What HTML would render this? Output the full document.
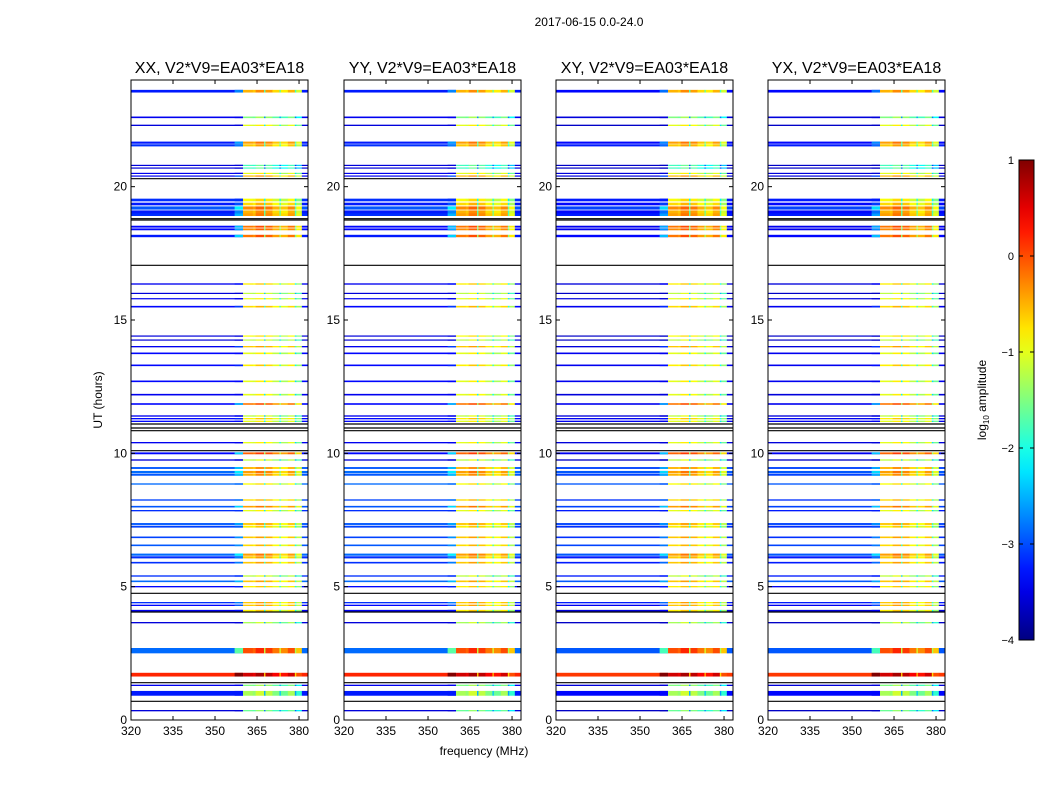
<!DOCTYPE html>
<html><head><meta charset="utf-8"><style>
body{margin:0;background:#fff;}
svg text{font-family:"Liberation Sans","DejaVu Sans",sans-serif;}
</style></head><body>
<svg id="fig" width="1050" height="800" xmlns="http://www.w3.org/2000/svg">
<rect width="1050" height="800" fill="#fff"/>
<text x="589" y="26" font-size="12" text-anchor="middle">2017-06-15 0.0-24.0</text>
<text x="484" y="755" font-size="12" text-anchor="middle">frequency (MHz)</text>
<text transform="translate(102,400) rotate(-90)" font-size="12" text-anchor="middle">UT (hours)</text>
<text transform="translate(986,400) rotate(-90)" font-size="12" text-anchor="middle">log<tspan font-size="8" dy="3">10</tspan><tspan dy="-3"> amplitude</tspan></text>
</svg>
<script>
// ---- data ----
const panelTitles = ["XX, V2*V9=EA03*EA18","YY, V2*V9=EA03*EA18","XY, V2*V9=EA03*EA18","YX, V2*V9=EA03*EA18"];
const xTicks = [320,335,350,365,380];
const yTicks = [0,5,10,15,20];
const cbTicks = [1,0,-1,-2,-3,-4];
// rows: UT hour (center), thickness (hours), low-band log10 amp, high-band log10 amp
const rowHours = [23.58,22.6,22.3,21.65,21.55,20.8,20.7,20.5,20.4,19.5,19.35,19.2,19.05,18.95,18.5,18.4,18.15,16.35,16.0,15.8,15.5,14.4,14.25,14.0,13.75,13.3,12.7,12.2,11.85,11.4,11.3,11.2,10.4,10.0,9.75,9.45,9.3,9.2,8.85,8.25,8.0,7.85,7.35,7.25,6.85,6.55,6.2,6.1,5.9,5.4,5.2,5.0,4.4,4.3,4.1,3.65,2.6,1.7,1.3,1.0,0.35];
const rowWidths = [0.1,0.06,0.05,0.08,0.08,0.04,0.04,0.04,0.04,0.1,0.1,0.12,0.12,0.1,0.07,0.07,0.09,0.05,0.04,0.04,0.06,0.04,0.04,0.05,0.06,0.06,0.06,0.06,0.06,0.05,0.05,0.05,0.05,0.07,0.05,0.07,0.08,0.08,0.05,0.05,0.06,0.05,0.07,0.07,0.06,0.06,0.08,0.08,0.06,0.05,0.06,0.05,0.05,0.05,0.06,0.05,0.2,0.14,0.05,0.18,0.05];
const rowLow = [-3.25,-3.45,-3.55,-3.25,-3.15,-3.55,-3.55,-3.45,-3.45,-3.15,-3.25,-2.95,-3.25,-3.15,-3.35,-3.35,-3.25,-3.45,-3.55,-3.45,-3.35,-3.55,-3.55,-3.45,-3.35,-3.35,-3.35,-3.45,-3.35,-3.45,-3.35,-3.35,-3.45,-3.35,-3.55,-2.95,-2.85,-2.95,-2.85,-3.05,-2.95,-3.15,-2.95,-3.05,-3.05,-2.95,-2.85,-3.15,-3.15,-3.15,-2.85,-3.35,-3.15,-3.35,-3.45,-3.55,-2.85,0.2,-3.45,-3.25,-3.55];
const rowHigh = [-0.5,-1.5,-1.0,-0.4,-0.6,-1.8,-1.8,-1.0,-0.5,-0.9,-0.7,-0.3,-0.5,-0.4,-0.2,-0.3,-0.2,-0.8,-1.2,-1.0,-0.7,-0.9,-1.2,-0.6,-1.0,-0.8,-1.0,-1.0,-0.2,-1.2,-0.8,-1.0,-1.0,-0.1,-1.2,-0.5,-0.4,-0.5,-0.9,-0.7,-0.4,-1.0,-0.6,-0.8,-0.6,-0.7,-0.4,-0.6,-0.6,-1.2,-0.6,-0.8,-0.6,-0.6,-0.8,-1.3,0.0,0.6,-1.5,-1.3,-1.6];
// flagged (black) lines, UT hours
const flagHours = [20.3,18.8,18.75,17.05,11.1,10.95,10.85,10.1,4.75,4.05,1.4,0.7];
// high-band channel structure: start freqs and relative level offsets
const chanStart = [360,363.5,364.5,367.5,368,370.5,373,373.5,376,378.5,379,381];
const chanOffset = [0,-0.1,0.2,-1.2,0.1,-0.2,-1.1,-0.3,0,-1.3,-0.6,-1.8];
const fMin = 320, fMax = 383.2, fHigh = 360;

// ---- helpers ----
const NS = "http://www.w3.org/2000/svg";
const svg = document.getElementById('fig');
function mk(tag, attrs, parent){const e=document.createElementNS(NS,tag);for(const k in attrs)e.setAttribute(k,attrs[k]);(parent||svg).appendChild(e);return e;}
function jet(v){ // v in log10 -4..1
  let t=(v+4)/5; t=Math.max(0,Math.min(1,t));
  const c=x=>Math.round(255*Math.max(0,Math.min(1,x)));
  const r=c(Math.min(4*t-1.5,-4*t+4.5)), g=c(Math.min(4*t-0.5,-4*t+3.5)), b=c(Math.min(4*t+0.5,-4*t+2.5));
  return `rgb(${r},${g},${b})`;
}
const lefts=[131,344,556,768], W=177, pTop=80, H=640;
const yS = h => pTop + H - h/24*H;
const xS = (f,L) => L + (f-fMin)/(fMax-fMin)*W;

lefts.forEach((L,p)=>{
  const g=mk('g',{});
  
  
  rowHours.forEach((h,i)=>{
    const y0=yS(h+rowWidths[i]/2), hh=Math.max(1.2,rowWidths[i]/24*H);
    const lw=rowLow[i]+(p>=2?-0.1:0);
    const r=mk('rect',{x:L,y:y0,width:xS(fHigh,L)-L,height:hh,fill:jet(lw)},g);
    
    
    const tv = lw + Math.max(0, rowHigh[i]+0.9)*1.3;
    const tr=mk('rect',{x:xS(357,L),y:y0,width:xS(fHigh,L)-xS(357,L),height:hh,fill:jet(tv)},g);
    
    
    chanStart.forEach((f,k)=>{
      const f2 = k<chanStart.length-1?chanStart[k+1]:fMax;
      const v = k===chanStart.length-1 ? lw : rowHigh[i]+chanOffset[k];
      const c=mk('rect',{x:xS(f,L),y:y0,width:xS(f2,L)-xS(f,L)+0.3,height:hh,fill:jet(v)},g);
      
      
    });
  });
  flagHours.forEach(h=>{
    const l=mk('line',{x1:L,x2:L+W,y1:yS(h),y2:yS(h),stroke:'#000','stroke-width':1.2},g);
    
    
  });
  const fr=mk('rect',{x:L,y:pTop,width:W,height:H,fill:'none',stroke:'#000','stroke-width':1},g);
  
  
  const t=mk('text',{x:L+W/2,y:pTop-7,'font-size':16,'text-anchor':'middle'},g);
  t.textContent=panelTitles[p];
  
  
  xTicks.forEach(f=>{
    const x=xS(f,L);
    mk('line',{x1:x,x2:x,y1:pTop+H,y2:pTop+H-4,stroke:'#000'},g);
    mk('line',{x1:x,x2:x,y1:pTop,y2:pTop+4,stroke:'#000'},g);
    const tx=mk('text',{x:x,y:pTop+H+15,'font-size':12,'text-anchor':'middle'},g);
    tx.textContent=f;
    
    
  });
  yTicks.forEach(v=>{
    const y=yS(v);
    mk('line',{x1:L,x2:L+4,y1:y,y2:y,stroke:'#000'},g);
    mk('line',{x1:L+W,x2:L+W-4,y1:y,y2:y,stroke:'#000'},g);
    const ty=mk('text',{x:L-4,y:y+4,'font-size':12,'text-anchor':'end'},g);
    ty.textContent=v;
    
    
  });
});

// colorbar
const cb=mk('g',{});


const defs=mk('defs',{}), grad=mk('linearGradient',{id:'jetg',x1:0,y1:1,x2:0,y2:0},defs);
for(let i=0;i<=20;i++){mk('stop',{offset:i/20,'stop-color':jet(-4+5*i/20)},grad);}
mk('rect',{x:1019,y:160,width:15,height:480,fill:'url(#jetg)',stroke:'#000'},cb);
cbTicks.forEach(v=>{
  const y=160+(1-v)/5*480;
  mk('line',{x1:1019,x2:1023,y1:y,y2:y,stroke:'#000'},cb);
  mk('line',{x1:1034,x2:1030,y1:y,y2:y,stroke:'#000'},cb);
  const t=mk('text',{x:1014,y:y+4,'font-size':11,'text-anchor':'end'},cb);
  t.textContent=v<0?'\u2212'+Math.abs(v):v;
  
  
});
</script>
</body></html>
